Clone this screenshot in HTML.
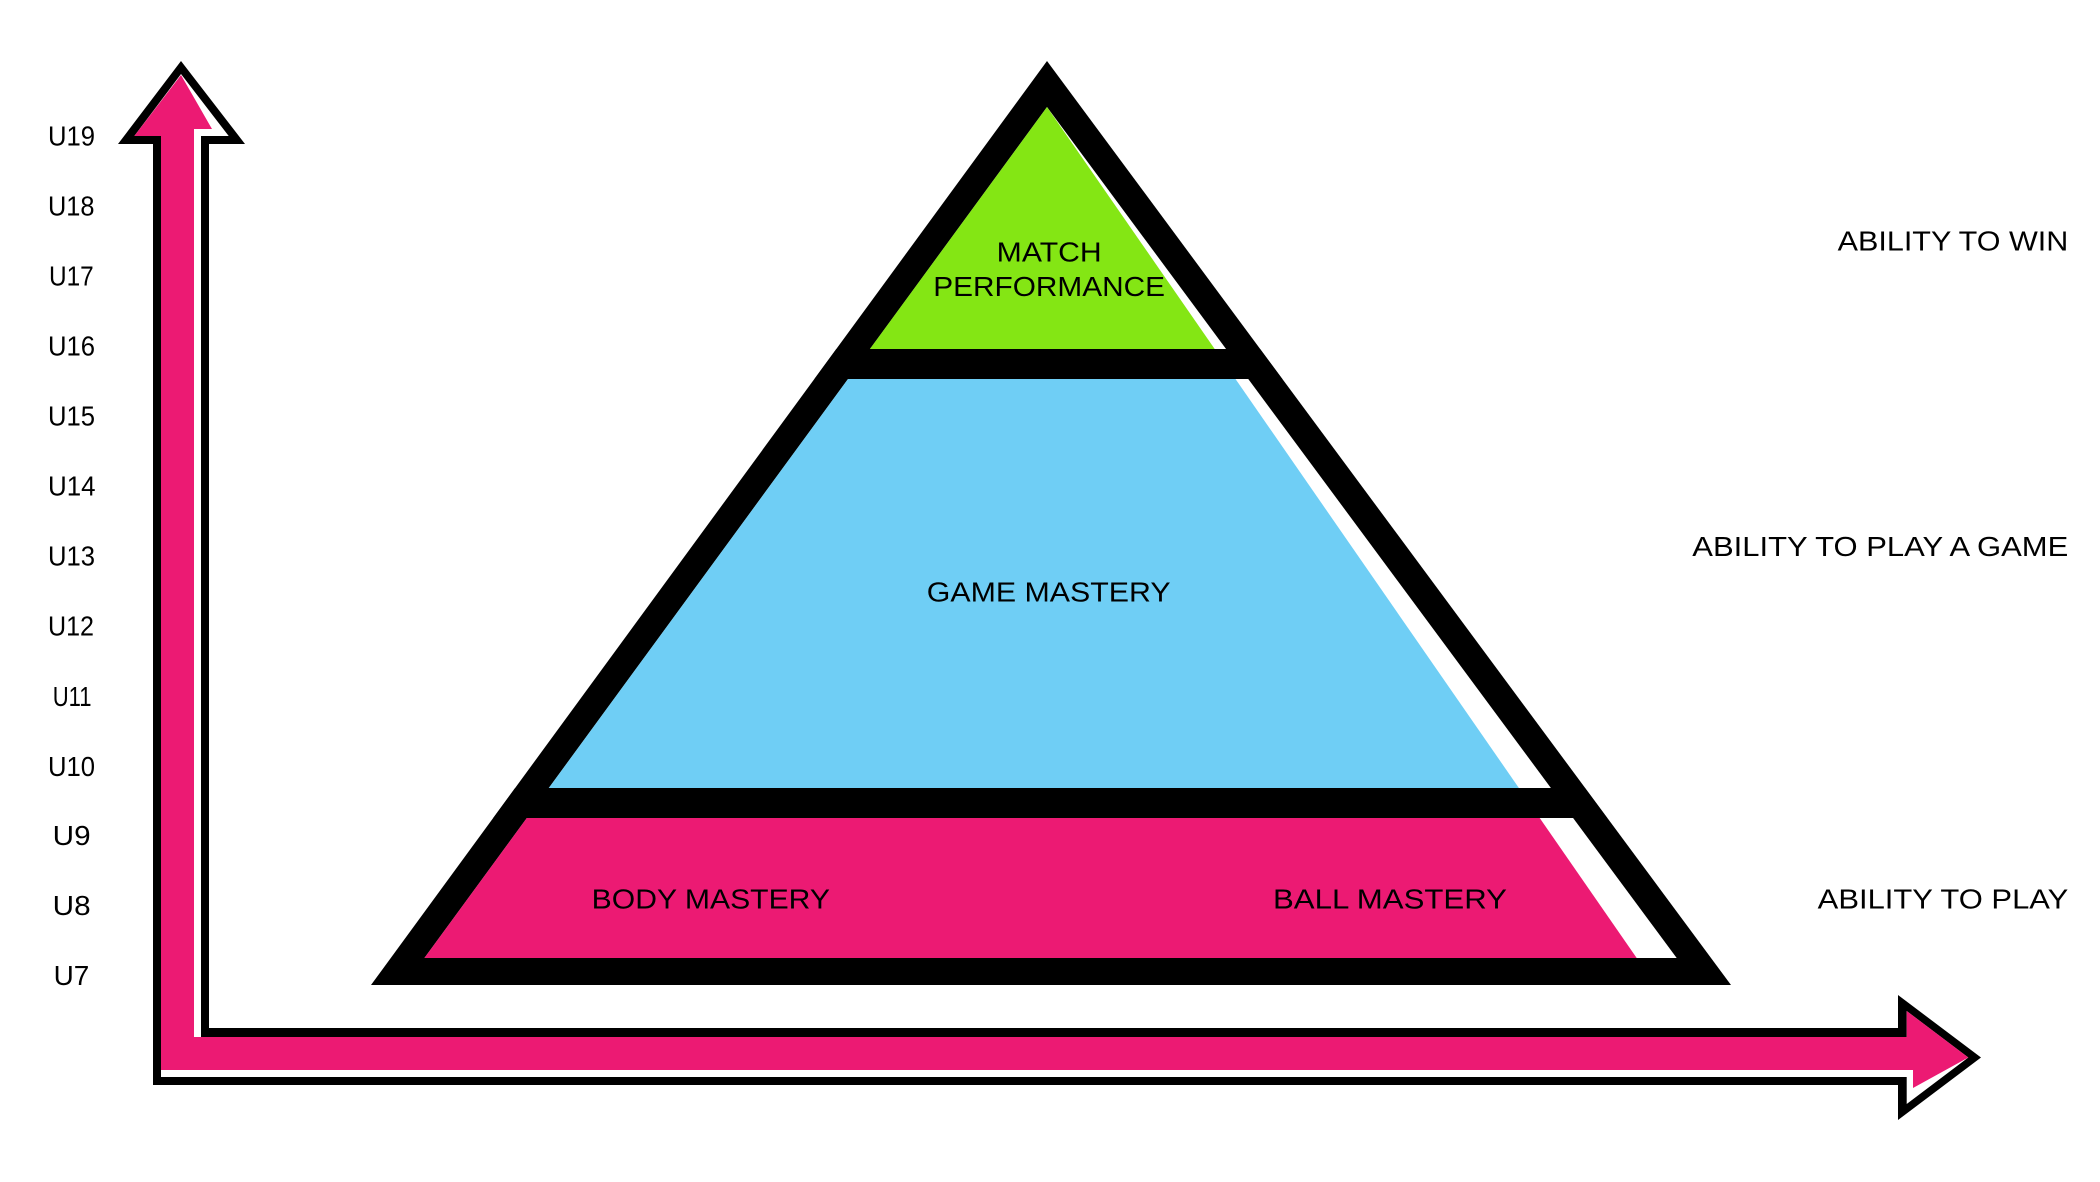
<!DOCTYPE html>
<html>
<head>
<meta charset="utf-8">
<style>
  html,body{margin:0;padding:0;background:#fff;}
  body{width:2100px;height:1182px;overflow:hidden;}
  svg{display:block;}
  text{font-family:"Liberation Sans",sans-serif;font-size:28px;fill:#000;}
</style>
</head>
<body>
<svg width="2100" height="1182" viewBox="0 0 2100 1182" xmlns="http://www.w3.org/2000/svg">
  <rect x="0" y="0" width="2100" height="1182" fill="#fff"/>

  <!-- L-shaped arrow axes -->
  <polygon fill="#000" points="181,61 245,144 209,144 209,1028 1898,1028 1898,995 1981,1057.5 1898,1120 1898,1085 153,1085 153,144 118,144"/>
  <polygon fill="#fff" points="181,74 228.7,136 201,136 201,1037 1906.7,1037 1906.7,1011 1968.3,1057.5 1906.7,1104 1906.7,1077 161,1077 161,136 134.3,136"/>
  <polygon fill="#EC1A73" points="181,75 212,129 194,129 194,1037 1906.7,1037 1906.7,1011 1968.3,1057.5 1913,1088 1913,1070 161,1070 161,136 134.3,136"/>

  <!-- Pyramid -->
  <polygon fill="#000" points="1047,61 1731,985 371,985"/>
  <polygon fill="#fff" points="1047,107 1676.7,958 424.4,958"/>
  <polygon fill="#84E614" points="1047,107 1214.7,349 869.9,349"/>
  <polygon fill="#6FCEF5" points="848,379 1235.5,379 1518.9,788 548.8,788"/>
  <polygon fill="#EC1A73" points="526.8,818 1539.7,818 1636.7,958 424.4,958"/>
  <polygon fill="#000" points="836.3,349 1260.1,349 1282.3,379 814.4,379"/>
  <polygon fill="#000" points="515.1,788 1585,788 1607.2,818 493.2,818"/>

  <!-- Pyramid labels -->
  <text x="996.7" y="261.7" textLength="105" lengthAdjust="spacingAndGlyphs">MATCH</text>
  <text x="933.3" y="296" textLength="231.7" lengthAdjust="spacingAndGlyphs">PERFORMANCE</text>
  <text x="926.8" y="601.4" textLength="243.8" lengthAdjust="spacingAndGlyphs">GAME MASTERY</text>
  <text x="591.7" y="908.3" textLength="238.3" lengthAdjust="spacingAndGlyphs">BODY MASTERY</text>
  <text x="1273" y="908.3" textLength="234" lengthAdjust="spacingAndGlyphs">BALL MASTERY</text>

  <!-- Right labels -->
  <text x="1837.7" y="250.7" textLength="230.6" lengthAdjust="spacingAndGlyphs">ABILITY TO WIN</text>
  <text x="1692.3" y="556" textLength="376" lengthAdjust="spacingAndGlyphs">ABILITY TO PLAY A GAME</text>
  <text x="1817.7" y="908.3" textLength="250.6" lengthAdjust="spacingAndGlyphs">ABILITY TO PLAY</text>

  <!-- Age labels -->
  <text x="48" y="145.4" textLength="47" lengthAdjust="spacingAndGlyphs">U19</text>
  <text x="48" y="215.5" textLength="46.5" lengthAdjust="spacingAndGlyphs">U18</text>
  <text x="49" y="285.3" textLength="44.7" lengthAdjust="spacingAndGlyphs">U17</text>
  <text x="48" y="355.3" textLength="47" lengthAdjust="spacingAndGlyphs">U16</text>
  <text x="48" y="425.3" textLength="47" lengthAdjust="spacingAndGlyphs">U15</text>
  <text x="48" y="495.6" textLength="47.5" lengthAdjust="spacingAndGlyphs">U14</text>
  <text x="48" y="565.6" textLength="47" lengthAdjust="spacingAndGlyphs">U13</text>
  <text x="48" y="635.7" textLength="46" lengthAdjust="spacingAndGlyphs">U12</text>
  <text x="52.7" y="706" textLength="38.8" lengthAdjust="spacingAndGlyphs">U11</text>
  <text x="48" y="775.8" textLength="47" lengthAdjust="spacingAndGlyphs">U10</text>
  <text x="52.7" y="845" textLength="37.9" lengthAdjust="spacingAndGlyphs">U9</text>
  <text x="52.7" y="914.8" textLength="37.9" lengthAdjust="spacingAndGlyphs">U8</text>
  <text x="53.6" y="985" textLength="35.7" lengthAdjust="spacingAndGlyphs">U7</text>
</svg>
</body>
</html>
